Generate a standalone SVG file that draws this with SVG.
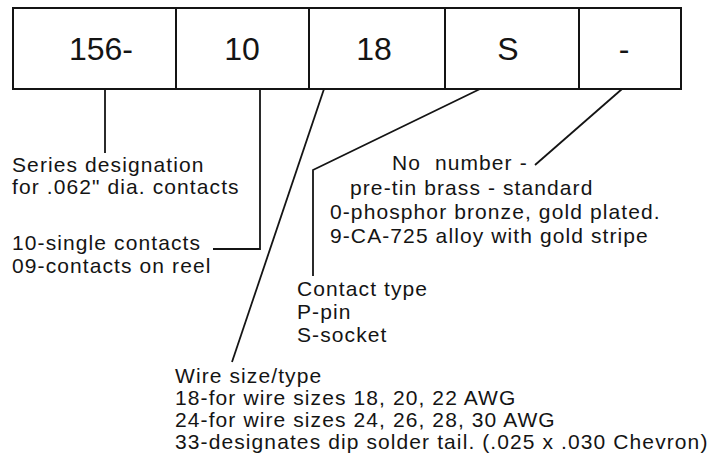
<svg xmlns="http://www.w3.org/2000/svg" width="708" height="459" viewBox="0 0 708 459">
<style>
.t{font-family:"Liberation Sans",Arial,sans-serif;font-size:21px;letter-spacing:1.1px;fill:#141414}
.b{font-family:"Liberation Sans",Arial,sans-serif;font-size:32px;fill:#141414;text-anchor:middle}
.c{fill:none;stroke:#141414;stroke-width:1.8}
.box{fill:#fff;stroke:#141414;stroke-width:2}
</style>
<rect width="708" height="459" fill="#fff"/>
<g id="code">
  <g id="box-series"><rect class="box" x="13" y="8" width="163" height="81"/><text class="b" x="101" y="60">156-</text></g>
  <g id="box-contacts"><rect class="box" x="176" y="8" width="133" height="81"/><text class="b" x="242" y="60">10</text></g>
  <g id="box-wire"><rect class="box" x="309" y="8" width="136" height="81"/><text class="b" x="374" y="60">18</text></g>
  <g id="box-type"><rect class="box" x="445" y="8" width="134" height="81"/><text class="b" x="508" y="60">S</text></g>
  <g id="box-plating"><rect class="box" x="579" y="8" width="102" height="81"/><text class="b" x="624" y="60">-</text></g>
</g>
<g id="connectors">
  <line class="c" x1="105" y1="89" x2="105" y2="153"/>
  <polyline class="c" points="260,89 260,249 213,249"/>
  <line class="c" x1="324" y1="89" x2="232" y2="362"/>
  <polyline class="c" points="480,89 313,170 313,276"/>
  <line class="c" x1="622" y1="89" x2="535" y2="165"/>
</g>
<g id="label-series">
  <text class="t" x="12" y="172">Series designation</text>
  <text class="t" x="12" y="194">for .062" dia. contacts</text>
</g>
<g id="label-contacts">
  <text class="t" x="12" y="250">10-single contacts</text>
  <text class="t" x="12" y="273">09-contacts on reel</text>
</g>
<g id="label-plating">
  <text class="t" x="392" y="170" xml:space="preserve">No  number -</text>
  <text class="t" x="350" y="195">pre-tin brass - standard</text>
  <text class="t" x="330" y="219">0-phosphor bronze, gold plated.</text>
  <text class="t" x="330" y="243">9-CA-725 alloy with gold stripe</text>
</g>
<g id="label-type">
  <text class="t" x="297" y="296">Contact type</text>
  <text class="t" x="297" y="319">P-pin</text>
  <text class="t" x="297" y="342">S-socket</text>
</g>
<g id="label-wire">
  <text class="t" x="175" y="383">Wire size/type</text>
  <text class="t" x="175" y="405">18-for wire sizes 18, 20, 22 AWG</text>
  <text class="t" x="175" y="427">24-for wire sizes 24, 26, 28, 30 AWG</text>
  <text class="t" x="175" y="449">33-designates dip solder tail. (.025 x .030 Chevron)</text>
</g>
</svg>
